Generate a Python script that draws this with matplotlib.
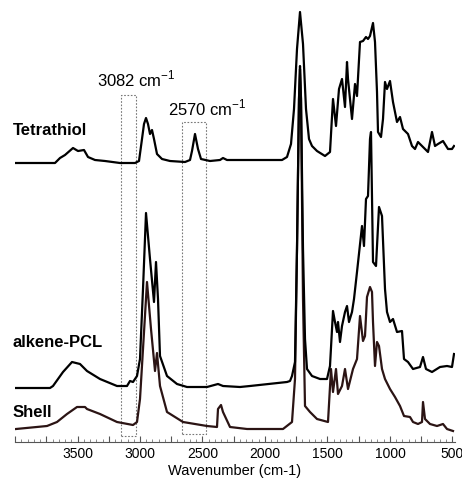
import matplotlib
matplotlib.use("Agg")
import matplotlib.pyplot as plt
from matplotlib.ticker import MultipleLocator

plt.rcParams["font.family"] = ["Liberation Sans", "DejaVu Sans"]
plt.rcParams["mathtext.fontset"] = "custom"
plt.rcParams["mathtext.rm"] = "Liberation Sans"

# FTIR spectra (wavenumber in cm-1, intensity in arbitrary units)
tetrathiol_wn = [3992, 3680, 3640, 3600, 3536, 3496, 3448, 3416, 3360, 3280, 3160, 3040,
                 3008, 2984, 2968, 2952, 2936, 2920, 2904, 2888, 2864, 2824, 2760, 2640,
                 2600, 2584, 2560, 2536, 2512, 2440, 2360, 2336, 2304, 2120, 1864, 1824,
                 1792, 1768, 1744, 1720, 1696, 1672, 1648, 1624, 1584, 1520, 1480, 1456,
                 1432, 1408, 1384, 1360, 1344, 1336, 1304, 1280, 1264, 1240, 1216, 1192,
                 1176, 1160, 1136, 1120, 1104, 1096, 1072, 1056, 1040, 1024, 1000, 976,
                 944, 920, 896, 856, 824, 800, 776, 744, 720, 696, 664, 640, 616, 576,
                 536, 504, 488]
tetrathiol_a = [279, 279, 284, 287, 294, 291, 292, 285, 282, 281, 279, 279,
                281, 303, 318, 324, 318, 308, 312, 303, 288, 283, 281, 280,
                282, 291, 308, 293, 283, 281, 282, 284, 282, 282, 282, 285,
                298, 333, 393, 430, 398, 333, 303, 296, 291, 286, 290, 343,
                316, 353, 363, 335, 380, 363, 323, 358, 346, 400, 401, 405,
                403, 406, 419, 400, 350, 310, 305, 323, 360, 353, 361, 340,
                320, 325, 313, 308, 296, 293, 300, 296, 293, 290, 310, 296, 298, 301,
                293, 293, 296]

alkene_wn = [3992, 3720, 3696, 3616, 3544, 3480, 3424, 3320, 3184, 3104, 3080, 3056,
             3024, 3000, 2976, 2952, 2920, 2888, 2872, 2856, 2840, 2784, 2704, 2624,
             2464, 2376, 2336, 2200, 2120, 1824, 1800, 1784, 1760, 1744, 1728, 1720,
             1712, 1696, 1680, 1664, 1624, 1560, 1504, 1480, 1456, 1440, 1424, 1416,
             1400, 1384, 1360, 1344, 1328, 1304, 1288, 1264, 1224, 1208, 1192, 1176,
             1160, 1152, 1136, 1112, 1088, 1064, 1040, 1024, 1000, 976, 944, 904,
             888, 856, 816, 760, 736, 712, 664, 600, 544, 504, 488]
alkene_a = [54, 54, 56, 70, 80, 78, 71, 63, 56, 56, 61, 60,
            66, 83, 153, 229, 183, 140, 180, 143, 86, 66, 58, 55,
            55, 58, 56, 55, 56, 60, 61, 66, 80, 193, 343, 376,
            343, 193, 103, 73, 66, 63, 63, 76, 131, 120, 110, 120,
            100, 116, 130, 136, 120, 130, 143, 170, 216, 196, 243, 246,
            303, 310, 180, 176, 235, 226, 153, 130, 120, 123, 110, 111,
            83, 80, 73, 75, 85, 73, 70, 75, 76, 75, 88]

shell_wn = [3992, 3744, 3664, 3584, 3504, 3440, 3424, 3320, 3184, 3056, 3024, 3000,
            2976, 2944, 2912, 2880, 2864, 2840, 2784, 2656, 2464, 2384, 2376, 2352,
            2336, 2280, 2144, 1856, 1784, 1760, 1744, 1728, 1720, 1712, 1696, 1680,
            1640, 1584, 1496, 1472, 1456, 1432, 1416, 1384, 1360, 1336, 1296, 1264,
            1240, 1216, 1200, 1184, 1160, 1144, 1136, 1120, 1104, 1088, 1064, 1040,
            1000, 960, 920, 888, 840, 816, 776, 744, 736, 720, 680, 624, 576, 544, 496]
shell_a = [13, 16, 20, 28, 35, 35, 33, 28, 20, 17, 20, 43,
           93, 160, 113, 71, 89, 56, 30, 20, 16, 15, 33, 37,
           30, 15, 13, 13, 20, 63, 193, 343, 373, 343, 143, 36,
           30, 23, 20, 73, 50, 73, 48, 56, 73, 53, 73, 83,
           126, 101, 106, 145, 155, 150, 120, 76, 100, 96, 73, 63,
           53, 45, 36, 26, 25, 20, 18, 20, 40, 23, 18, 16, 18, 13, 11]

# dotted boxes marking the 3082 and 2570 cm-1 regions
box_left = [3152, 2664]
box_right = [3032, 2472]
box_top = [347, 320]
box_bottom = [6, 8]
box_labels = ["3082 cm$^{-1}$", "2570 cm$^{-1}$"]
box_label_x = [3344, 2776]
box_label_y = [357, 328]

curve_names = ["Tetrathiol", "alkene-PCL", "Shell"]
curve_label_y = [308, 96, 26]

fig = plt.figure(figsize=(4.62, 4.81), dpi=100)
ax = fig.add_axes([15 / 462, 38 / 481, 440 / 462, 443 / 481])

for l, r, t, b in zip(box_left, box_right, box_top, box_bottom):
    ax.plot([l, r, r, l, l], [b, b, t, t, b], color="#777777", lw=0.8,
            ls=(0, (1.5, 1.5)), zorder=1)

ax.plot(tetrathiol_wn, tetrathiol_a, color="black", lw=1.6, zorder=3)
ax.plot(alkene_wn, alkene_a, color="black", lw=1.6, zorder=3)
ax.plot(shell_wn, shell_a, color="#2b1414", lw=1.6, zorder=2)

for txt, x, y in zip(box_labels, box_label_x, box_label_y):
    ax.text(x, y, txt, fontsize=12, ha="left", va="baseline")

for name, y in zip(curve_names, curve_label_y):
    ax.text(4020, y, name, fontsize=12, fontweight="bold", ha="left", va="baseline")

ax.set_xlim(4000, 480)
ax.set_ylim(0, 443)
ax.xaxis.set_minor_locator(MultipleLocator(50))
ax.set_xticks(range(4000, 450, -250))
ax.set_xticklabels(["" if v % 500 or v == 4000 else str(v) for v in range(4000, 450, -250)])
ax.tick_params(axis="x", which="major", direction="in", length=4, width=0.8,
               labelsize=10, pad=3, color="#555555")
ax.tick_params(axis="x", which="minor", direction="in", length=2.5, width=0.6,
               color="#777777")
ax.set_yticks([])
for s in ["left", "right", "top"]:
    ax.spines[s].set_visible(False)
ax.spines["bottom"].set_color("#555555")
ax.set_xlabel("Wavenumber (cm-1)", fontsize=10.5, labelpad=2)

plt.savefig("out.png", dpi=100)
